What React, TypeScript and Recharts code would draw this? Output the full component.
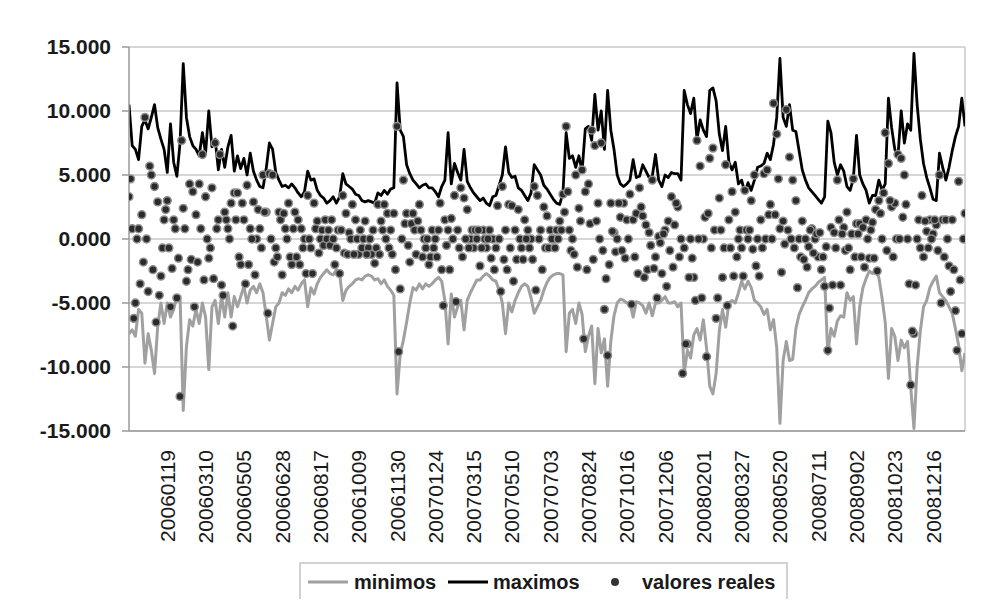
import React from 'react';
import { ComposedChart, Line, Scatter, XAxis, YAxis, CartesianGrid, Legend, ReferenceLine } from 'recharts';

const FONT = '"Liberation Sans", Arial, Helvetica, sans-serif';

const tickLabels = [
  '20060119', '20060310', '20060505', '20060628', '20060817', '20061009', '20061130',
  '20070124', '20070315', '20070510', '20070703', '20070824', '20071016', '20071206',
  '20080201', '20080327', '20080520', '20080711', '20080902', '20081023', '20081216',
];
const tickIndex = [12, 24, 36, 48, 60, 72, 84, 96, 108, 120, 132, 144, 156, 168, 180, 192, 204, 216, 228, 240, 252];
const yTicks = [-15, -10, -5, 0, 5, 10, 15];

const maximos = [
  10.5, 7.3, 7.0, 6.2, 8.8, 9.3, 8.6, 9.5, 10.5, 8.7,
  7.8, 7.0, 5.2, 9.0, 6.0, 4.9, 7.5, 13.7, 9.5, 8.0,
  7.3, 7.0, 6.5, 8.3, 6.7, 10.0, 7.2, 7.8, 5.4, 7.0,
  5.6, 7.2, 8.1, 5.3, 6.5, 5.5, 6.3, 5.0, 6.7, 5.3,
  4.6, 4.1, 4.0, 5.5, 7.5, 7.0, 5.2, 4.6, 4.1, 4.2,
  4.0, 4.3, 4.0, 3.6, 3.3, 3.7, 5.3, 4.6, 4.7, 3.8,
  3.4, 3.2, 2.8, 3.0, 3.3, 2.8, 3.3, 5.1, 4.3, 4.1,
  3.9, 3.5, 3.4, 3.0, 2.9, 3.0, 2.9, 2.8, 3.6, 3.4,
  3.8, 3.5, 3.9, 4.0, 12.2, 8.5, 8.0, 5.8, 5.1, 4.6,
  4.3, 4.0, 4.2, 4.3, 4.0, 4.0, 3.7, 3.3, 4.1, 4.6,
  8.3, 4.3, 5.9, 5.2, 4.6, 7.0, 4.5, 4.0, 3.6, 3.3,
  3.0, 3.2, 2.8, 2.6, 3.3, 3.4, 4.2, 5.0, 7.2, 5.2,
  4.8, 4.9, 4.0, 3.8, 3.4, 3.0, 3.6, 5.8, 5.4, 5.0,
  4.2, 3.9, 3.5, 3.1, 2.8, 2.7, 3.6, 8.3, 6.3, 6.5,
  5.6, 6.5, 5.3, 8.6, 8.8, 7.7, 11.3, 8.5, 10.0, 7.0,
  11.6, 8.5, 7.0, 5.0, 4.3, 4.1, 4.3, 4.6, 6.2, 4.8,
  4.9, 5.8, 5.3, 4.8, 4.9, 6.6, 4.6, 4.1, 5.0, 4.8,
  5.2, 5.1, 5.1, 4.6, 11.6, 10.5, 9.8, 11.0, 7.8, 9.3,
  8.5, 8.0, 11.6, 11.8, 10.8, 8.2, 6.9, 8.8, 6.0, 5.4,
  6.0, 4.3, 4.6, 3.6, 4.4, 3.8, 4.6, 5.6, 5.7, 5.9,
  6.7, 6.2, 7.4, 9.5, 14.1, 9.5, 8.8, 10.5, 8.5, 8.4,
  6.9, 5.4, 4.6, 4.0, 3.7, 3.4, 3.1, 2.8, 3.3, 9.2,
  8.3, 6.0, 5.0, 5.8, 5.3, 4.1, 3.8, 4.7, 8.1, 5.0,
  4.3, 3.8, 2.8, 3.4, 3.4, 4.6, 3.8, 4.3, 11.0, 8.7,
  7.0, 6.5, 10.0, 7.5, 9.0, 8.5, 14.5, 10.5, 7.8, 5.9,
  4.8, 4.0, 3.1, 3.0, 6.7, 5.6, 4.6, 5.6, 6.9, 8.0,
  8.8, 11.0, 8.8,
];

const minimos = [
  -7.4, -7.1, -7.6, -5.5, -5.8, -9.7, -7.4, -8.7, -10.5, -6.8,
  -5.0, -6.6, -5.0, -6.1, -5.5, -4.5, -4.5, -13.4, -8.4, -6.3,
  -6.8, -5.5, -6.6, -5.0, -6.1, -10.2, -5.3, -4.8, -6.6, -4.5,
  -6.1, -4.2, -6.1, -4.5, -5.3, -4.5, -3.7, -5.0, -4.0, -3.7,
  -4.2, -3.5, -4.2, -6.0, -7.9, -6.6, -5.3, -5.0, -4.2, -4.4,
  -3.9, -4.2, -3.7, -4.0, -3.5, -3.2, -5.3, -3.8, -4.3, -3.5,
  -3.0, -2.7, -2.4, -2.7, -2.8, -2.4, -2.7, -4.8, -4.0, -3.7,
  -3.5, -3.2, -3.1, -3.2, -2.9, -2.8, -2.9, -3.2, -3.1, -3.5,
  -3.2, -3.7, -4.0, -4.4, -12.1, -9.0, -7.9, -6.5, -5.0, -3.8,
  -4.0, -3.5, -3.9, -3.5, -3.7, -3.5, -3.2, -3.0, -3.3, -4.8,
  -8.2, -4.3, -6.1, -5.3, -4.8, -7.1, -4.8, -4.2, -3.7, -3.2,
  -3.2, -2.9, -2.7, -2.9, -3.2, -3.3, -4.0, -5.0, -7.4, -5.0,
  -5.7, -4.8, -4.2, -3.7, -3.5, -3.7, -4.6, -5.8, -5.3, -4.8,
  -4.0, -3.4, -3.0, -2.8, -2.7, -2.7, -2.8, -8.8, -5.8, -5.5,
  -6.6, -5.0, -5.9, -8.8, -7.6, -6.8, -11.3, -7.0, -8.9, -7.8,
  -11.5, -8.0, -6.0, -5.0, -4.7, -4.8, -5.0, -5.0, -6.1, -4.9,
  -5.0, -5.2, -5.8, -5.0, -6.0, -5.0, -5.0, -4.8, -4.5, -5.0,
  -5.0, -4.9, -5.3, -5.0, -10.5, -8.7, -9.3, -7.5, -7.0, -7.9,
  -6.3, -8.5, -11.5, -12.1, -10.5, -7.2, -5.5, -6.9, -5.0, -4.8,
  -5.0, -4.2, -3.3, -3.9, -3.3, -3.8, -4.8, -5.0, -5.3, -5.9,
  -5.5, -7.1, -6.3, -8.5, -14.4, -9.5, -8.0, -9.5, -9.4, -7.0,
  -5.9, -5.3, -4.8, -4.2, -3.9, -3.7, -3.4, -3.2, -3.0, -9.0,
  -7.0, -7.6, -6.4, -6.0, -6.1, -4.2, -4.8, -4.5, -8.2, -5.3,
  -3.8, -3.1, -2.5, -2.7, -2.4, -3.0, -4.6, -6.5, -10.9, -7.0,
  -7.6, -9.5, -7.9, -8.5, -8.0, -11.6, -14.8, -10.0, -7.2, -5.3,
  -4.8, -3.8, -3.3, -2.9, -4.2, -4.5, -4.8, -5.3, -5.8, -7.0,
  -8.3, -10.3, -8.9,
];

// valores reales, first reading of each position
const realesA = [
  3.3, 0.8, -5.0, 0.8, 1.9, 9.5, -4.1, 5.0, 4.1, 2.9,
  -2.9, 1.5, 3.0, -5.3, 1.5, -4.6, -12.3, 2.4, -3.3, 4.3,
  3.7, 1.9, 4.3, 6.6, 3.3, -1.5, 4.0, 7.5, 1.5, -3.6,
  2.1, 0.8, 2.8, 3.6, 3.6, -2.0, 1.5, 4.2, 0.8, 2.9,
  0.0, 0.8, 5.0, 2.1, 5.1, 5.0, -0.7, 2.1, -2.8, 0.8,
  2.8, -2.0, 2.1, 1.5, 0.8, 0.0, 3.4, -0.7, 2.8, 1.4,
  0.0, -0.5, 0.0, -0.5, 0.0, -0.7, -2.7, 3.4, 2.0, 0.5,
  2.7, 1.5, -1.2, -0.7, 1.4, -0.7, -1.2, -1.9, 2.7, 1.4,
  2.7, 2.0, 0.7, 2.0, 8.8, -3.9, 4.6, 2.0, -1.8, 2.0,
  -1.2, 2.7, -1.4, -0.7, -2.0, 0.7, 0.0, 0.7, -2.4, 1.5,
  0.7, 1.6, 3.4, 0.7, 4.0, 3.2, 2.3, 0.0, -0.7, 0.0,
  -2.1, 0.7, -0.7, 0.7, 0.0, -0.7, 0.0, 4.1, 0.7, 2.7,
  2.6, 0.7, 2.3, -0.7, 1.5, 0.7, 0.0, 4.1, 3.4, 0.7,
  2.5, 1.8, 0.7, 0.0, 0.7, 1.4, 3.5, 8.8, 0.7, 0.0,
  5.0, 2.4, 5.4, 3.7, 4.3, 8.5, 7.3, 2.8, 7.5, -5.5,
  -9.1, 2.8, 0.5, 0.0, 1.7, 2.8, 1.5, 3.5, 1.5, 2.0,
  4.0, 1.8, 1.1, 0.5, 4.6, -1.4, 0.2, -2.7, 0.7, 1.4,
  3.3, 1.1, 2.5, 0.0, -0.7, -8.2, 0.0, -3.0, 7.7, 5.7,
  0.0, -9.2, 6.3, 7.1, -6.2, 3.2, -3.0, 5.8, 1.5, 3.7,
  2.1, 0.0, -0.7, 3.8, 0.0, 3.0, 5.0, 0.0, 1.5, 5.1,
  5.4, 2.7, 10.6, 8.2, 0.8, 1.4, 10.1, 6.4, 4.6, 3.0,
  0.0, 1.4, 0.0, -0.6, 0.8, 0.0, -1.4, -2.4, -3.7, -8.7,
  0.9, 0.5, 4.6, -3.6, 0.9, 2.1, -2.4, 4.7, 1.2, 1.2,
  0.9, 1.5, -1.5, 1.3, 2.3, 3.0, 0.0, 8.3, 5.9, 2.5,
  2.8, 6.6, 6.3, 5.0, 0.0, -11.4, -7.4, 0.0, -0.7, -1.4,
  0.6, 1.5, 0.4, 1.1, 5.0, 1.5, 1.5, -2.1, 1.5, -5.6,
  4.5, -7.4, 2.0,
];

// valores reales, second reading (between positions)
const realesB = [
  4.7, -6.2, 0.0, -3.5, -1.8, 0.0, 5.7, -2.4, -6.5, -4.4,
  -0.7, 2.3, -0.7, -2.3, 0.8, -1.5, 7.7, 0.8, -2.4, -1.6,
  -5.3, -1.8, 0.8, -3.2, 0.0, -0.7, -3.1, 0.8, 6.6, -4.4,
  1.5, 0.0, -6.8, 1.5, -1.4, 2.8, -3.5, -2.0, 0.0, -2.8,
  2.3, -0.7, 2.1, -5.8, 0.0, -1.8, -1.4, 1.5, 2.0, 0.0,
  -1.4, 0.8, -1.4, -2.0, -0.7, -2.7, 0.0, -2.7, 0.8, -1.1,
  0.7, 1.5, 0.7, 1.5, -2.0, 0.7, 0.7, -1.1, -1.2, 0.0,
  -1.2, 0.0, 0.7, 0.0, -1.2, 0.0, 0.7, -0.7, -1.2, 0.7,
  0.0, -0.7, -1.2, -2.4, -8.8, 0.0, 1.2, -0.5, 1.2, 0.7,
  1.4, 0.7, 0.0, 0.0, -1.4, -0.7, -1.4, 2.8, -5.2, -0.5,
  -2.4, 0.0, -4.9, -0.7, -1.4, 0.0, -0.7, 0.7, 0.7, 0.7,
  -0.7, 0.0, 0.0, -1.5, -2.4, 2.6, -4.1, -1.6, -2.4, -0.7,
  -3.3, -1.6, 0.0, -1.6, 0.0, -0.7, -1.6, -4.0, 0.0, -2.4,
  -0.7, -0.7, 0.0, -0.7, 0.0, 0.7, 2.1, 3.7, -0.9, -1.2,
  -2.2, 1.4, -7.8, -2.4, 1.2, -1.6, 1.4, 0.0, -0.9, -3.1,
  -2.0, 0.6, -1.0, 2.8, -0.9, -1.5, 0.0, -5.1, -1.4, -2.7,
  2.5, -3.0, -2.4, -0.5, -2.3, -4.6, -0.3, 0.4, -3.7, -0.9,
  -2.2, 2.8, -1.4, -10.5, -8.2, -3.0, -1.5, -4.8, 0.0, -4.6,
  1.7, 2.0, -0.7, 0.7, -4.6, 0.7, -0.7, -5.2, -0.7, -2.9,
  -1.4, 0.7, -2.9, 0.7, 0.7, -0.8, -2.1, -2.9, -0.7, 0.0,
  1.9, 0.0, 1.9, 4.7, -2.6, -0.4, 0.7, 0.0, -0.7, -3.8,
  -1.4, -1.6, -2.2, 0.7, -1.1, 0.4, 0.5, -1.4, -0.6, -5.4,
  -3.6, -0.7, 1.5, 0.4, -0.9, -0.7, 0.4, -1.4, 0.4, -1.4,
  -2.2, 0.0, 0.7, -1.5, -2.5, 2.0, 3.6, -0.9, 3.0, -1.4,
  0.0, 0.0, 1.7, 2.7, -3.5, -7.2, -3.6, 1.5, 3.4, 1.4,
  -0.7, 0.0, 1.5, -0.9, -5.0, -1.4, 0.0, -4.1, -2.4, -8.7,
  -3.2, 0.0,
];

const lineData = maximos.map((v, k) => ({ x: k, maximos: v, minimos: minimos[k] }));
const dotsA = realesA.map((v, k) => ({ x: k, reales: v }));
const dotsB = realesB.map((v, k) => ({ x: k + 0.5, reales: v }));

const LAST = maximos.length - 1;
const PLOT_BOTTOM = 423;

const XTick = (props: any) => {
  const { x, payload } = props;
  const k = tickIndex.indexOf(payload.value);
  return (
    <text
      transform={`translate(${x},${PLOT_BOTTOM + 19}) rotate(-90)`}
      textAnchor="end"
      dy="0.36em"
      fontSize={21}
      fontFamily={FONT}
      fill="#1a1a1a"
    >
      {k >= 0 ? tickLabels[k] : ''}
    </text>
  );
};

const Dot = (p: any) => (
  <circle cx={p.cx} cy={p.cy} r={3.9} fill="#2b2b2b" stroke="#8e8e8e" strokeWidth={1.5} />
);

const LegendBox = () => (
  <svg width={490} height={41} style={{ display: 'block' }}>
    <rect x={1} y={1} width={487} height={38} fill="#ffffff" stroke="#c4c4c4" strokeWidth={1.5} />
    <line x1={9} x2={49} y1={20} y2={20} stroke="#a0a0a0" strokeWidth={3} />
    <text x={55} y={20} dy="0.35em" fontSize={20} fontWeight="bold" fontFamily={FONT} fill="#1a1a1a">minimos</text>
    <line x1={149} x2={189} y1={20} y2={20} stroke="#000000" strokeWidth={3} />
    <text x={194} y={20} dy="0.35em" fontSize={20} fontWeight="bold" fontFamily={FONT} fill="#1a1a1a">maximos</text>
    <circle cx={316} cy={20} r={4} fill="#333333" />
    <text x={343} y={20} dy="0.35em" fontSize={20} fontWeight="bold" fontFamily={FONT} fill="#1a1a1a">valores reales</text>
  </svg>
);

export default function App() {
  return (
    <div style={{ position: 'relative', width: 982, height: 591, fontFamily: FONT }}>
      <div style={{ position: 'absolute', left: -1, top: -3, width: 991, height: 2, background: '#505050' }} />
      <ComposedChart
        width={982}
        height={591}
        data={lineData}
        margin={{ top: 39, right: 25, bottom: 138, left: 61 }}
      >
        <CartesianGrid vertical={false} stroke="#c8c8c8" strokeWidth={1.5} />
        <XAxis
          dataKey="x"
          type="number"
          domain={[0, LAST]}
          ticks={tickIndex}
          interval={0}
          tick={<XTick />}
          tickLine={false}
          axisLine={{ stroke: '#9a9a9a', strokeWidth: 1.5 }}
          height={30}
          allowDataOverflow
        />
        <YAxis
          type="number"
          domain={[-15, 15]}
          ticks={yTicks}
          interval={0}
          width={60}
          tickFormatter={(v: number) => v.toFixed(3)}
          tick={{ fontSize: 21, fontWeight: 'bold', fill: '#1a1a1a', fontFamily: FONT }}
          tickLine={{ stroke: '#9a9a9a', strokeWidth: 1.5 }}
          tickSize={7}
          tickMargin={11}
          axisLine={{ stroke: '#9a9a9a', strokeWidth: 1.5 }}
          allowDataOverflow
        />
        <ReferenceLine x={LAST} stroke="#c8c8c8" strokeWidth={1.5} />
        <Line
          dataKey="minimos"
          name="minimos"
          type="linear"
          stroke="#a0a0a0"
          strokeWidth={3}
          strokeLinejoin="round"
          dot={false}
          activeDot={false}
          isAnimationActive={false}
        />
        <Line
          dataKey="maximos"
          name="maximos"
          type="linear"
          stroke="#000000"
          strokeWidth={2.8}
          strokeLinejoin="round"
          dot={false}
          activeDot={false}
          isAnimationActive={false}
        />
        <Scatter data={dotsA} dataKey="reales" name="valores reales" shape={Dot} isAnimationActive={false} />
        <Scatter data={dotsB} dataKey="reales" name="valores reales 2" legendType="none" shape={Dot} isAnimationActive={false} />
        <Legend
          layout="horizontal"
          verticalAlign="middle"
          align="center"
          content={() => <LegendBox />}
          wrapperStyle={{ left: 291, top: 554, width: 490, height: 41 }}
        />
      </ComposedChart>
    </div>
  );
}
